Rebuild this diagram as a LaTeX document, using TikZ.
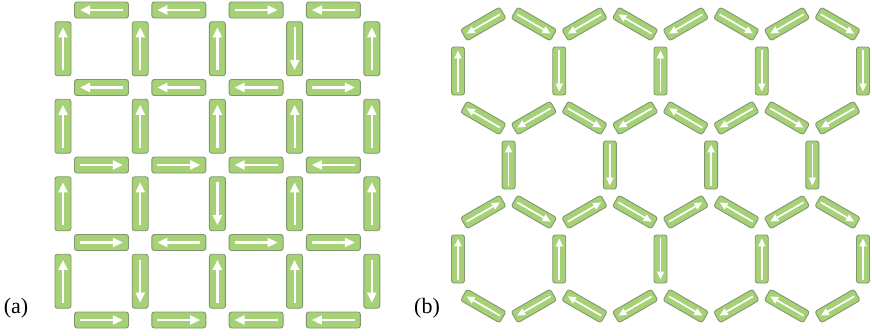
\documentclass[tikz,border=0pt]{standalone}
\usepackage{fontspec}
\setmainfont{Liberation Serif}
\usetikzlibrary{arrows.meta,calc}
\definecolor{barfill}{RGB}{166,209,118}
\definecolor{barline}{RGB}{128,150,110}
\tikzset{
  barbase/.style={draw=barline, fill=barfill, rounded corners=2.5pt, line width=0.9pt, inner sep=0pt},
  barsq/.style={barbase, minimum width=54pt, minimum height=16pt},
  barhv/.style={barbase, minimum width=48pt, minimum height=13pt},
  barsl/.style={barbase, minimum width=45pt, minimum height=13pt},
  spinsq/.style={white, line width=2.2pt, -{Triangle[length=10pt,width=9pt]}},
  spinhx/.style={white, line width=1.7pt, -{Triangle[length=8pt,width=7pt]}},
  lbl/.style={font=\fontsize{22}{26}\selectfont, inner sep=0pt}
}
\newcommand{\mybar}[6]{%
  \node[#4, rotate=#3] (#1) at (#2) {};
  \draw[#5] ($(#1.west)!#6!(#1.east)$) -- ($(#1.east)!#6!(#1.west)$);
}
\begin{document}
\begin{tikzpicture}[x=1pt,y=-1pt]
\useasboundingbox (0,0) rectangle (872,335);
% ---------- (a) square ice ----------
\foreach \a [count=\i] in {180,180,0,180}
  {\mybar{ha\i}{24.2+77.3*\i,10}{\a}{barsq}{spinsq}{0.11}}
\foreach \a [count=\i] in {90,90,90,270,90}
  {\mybar{va\i}{-14.2+77.2*\i,48.75}{\a}{barsq}{spinsq}{0.11}}
\foreach \a [count=\i] in {180,180,180,0}
  {\mybar{hb\i}{24.2+77.3*\i,87.5}{\a}{barsq}{spinsq}{0.11}}
\foreach \a [count=\i] in {90,90,90,90,90}
  {\mybar{vb\i}{-14.2+77.2*\i,126.25}{\a}{barsq}{spinsq}{0.11}}
\foreach \a [count=\i] in {0,0,180,180}
  {\mybar{hc\i}{24.2+77.3*\i,165}{\a}{barsq}{spinsq}{0.11}}
\foreach \a [count=\i] in {90,90,270,90,90}
  {\mybar{vc\i}{-14.2+77.2*\i,203.75}{\a}{barsq}{spinsq}{0.11}}
\foreach \a [count=\i] in {0,180,0,0}
  {\mybar{hd\i}{24.2+77.3*\i,242.5}{\a}{barsq}{spinsq}{0.11}}
\foreach \a [count=\i] in {90,270,90,90,270}
  {\mybar{vd\i}{-14.2+77.2*\i,281.25}{\a}{barsq}{spinsq}{0.11}}
\foreach \a [count=\i] in {0,0,180,180}
  {\mybar{he\i}{24.2+77.3*\i,320}{\a}{barsq}{spinsq}{0.11}}
% ---------- (b) honeycomb ----------
\foreach \a [count=\i] in {210,330,210,150,210,330,210,330}
  {\mybar{sa\i}{432.7+50.6*\i,24}{\a}{barsl}{spinhx}{0.08}}
\foreach \a [count=\i] in {90,270,90,270,270}
  {\mybar{wa\i}{356.75+101.25*\i,71}{\a}{barhv}{spinhx}{0.08}}
\foreach \a [count=\i] in {150,210,330,210,150,210,330,210}
  {\mybar{sb\i}{432.7+50.6*\i,118}{\a}{barsl}{spinhx}{0.08}}
\foreach \a [count=\i] in {90,270,90,270}
  {\mybar{wb\i}{407.35+101.25*\i,165}{\a}{barhv}{spinhx}{0.08}}
\foreach \a [count=\i] in {30,330,30,330,30,150,210,330}
  {\mybar{sc\i}{432.7+50.6*\i,212}{\a}{barsl}{spinhx}{0.08}}
\foreach \a [count=\i] in {90,90,270,90,90}
  {\mybar{wc\i}{356.75+101.25*\i,259}{\a}{barhv}{spinhx}{0.08}}
\foreach \a [count=\i] in {150,210,150,210,330,210,150,210}
  {\mybar{sd\i}{432.7+50.6*\i,306}{\a}{barsl}{spinhx}{0.08}}
% ---------- labels ----------
\node[lbl] (laba) at (16,308) {(a)};
\node[lbl] (labb) at (427,308) {(b)};
\end{tikzpicture}
\end{document}
